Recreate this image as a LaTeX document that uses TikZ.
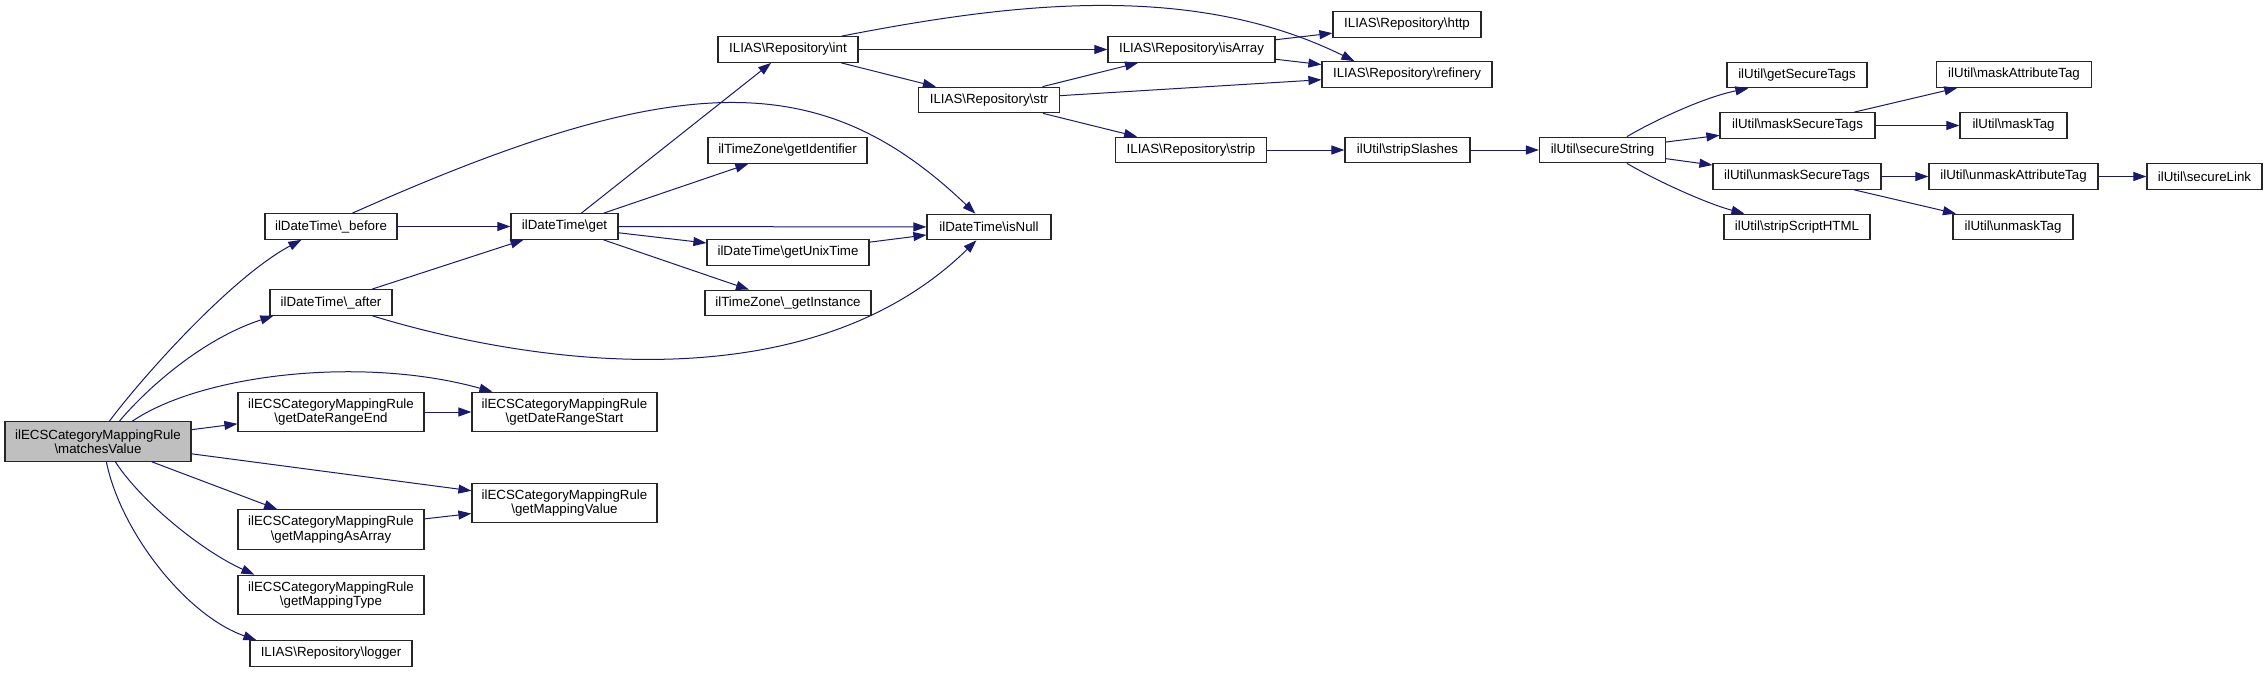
\documentclass[tikz,border=0pt]{standalone}
\usepackage{fontspec}
\setmainfont{Liberation Sans}
\usetikzlibrary{arrows.meta,calc}
\definecolor{edgeblue}{HTML}{191970}
\newcommand\mybs{\textbackslash}
\begin{document}
\begin{tikzpicture}[x=1pt,y=-1pt,
  box/.style={draw=black!85, line width=1.2pt, fill=white, inner sep=0pt,
    minimum height=25.5pt, align=center, font=\fontsize{13.3}{14.5}\selectfont},
  tall/.style={minimum height=39.5pt},
  edge/.style={draw=edgeblue, line width=1pt, -{Triangle[length=13pt,width=9pt]}}]
\fill[white] (0,0) rectangle (2267,672);
\useasboundingbox (0,0) rectangle (2267,672);

% nodes
\node[box,tall,fill=black!25,minimum width=186pt] (mv) at (98,441.5) {ilECSCategoryMappingRule\\\mybs matchesValue};
\node[box,tall,minimum width=186pt] (dre) at (331,412) {ilECSCategoryMappingRule\\\mybs getDateRangeEnd};
\node[box,tall,minimum width=185pt] (drs) at (564.5,412) {ilECSCategoryMappingRule\\\mybs getDateRangeStart};
\node[box,tall,minimum width=185pt] (mval) at (564.5,503) {ilECSCategoryMappingRule\\\mybs getMappingValue};
\node[box,tall,minimum width=186pt] (maa) at (331,529.5) {ilECSCategoryMappingRule\\\mybs getMappingAsArray};
\node[box,tall,minimum width=186pt] (mt) at (331,595) {ilECSCategoryMappingRule\\\mybs getMappingType};
\node[box,minimum width=162pt] (logger) at (331,653.5) {ILIAS\mybs Repository\mybs logger};
\node[box,minimum width=132pt] (before) at (331,226.5) {ilDateTime\mybs\_before};
\node[box,minimum width=122pt] (after) at (331,302.5) {ilDateTime\mybs\_after};
\node[box,minimum width=107pt] (get) at (564.5,226.5) {ilDateTime\mybs get};
\node[box,minimum width=140pt] (int) at (788,49.5) {ILIAS\mybs Repository\mybs int};
\node[box,minimum width=159pt] (gid) at (787.5,150.5) {ilTimeZone\mybs getIdentifier};
\node[box,minimum width=162pt] (gut) at (788,252.5) {ilDateTime\mybs getUnixTime};
\node[box,minimum width=166pt] (gin) at (788,303) {ilTimeZone\mybs\_getInstance};
\node[box,minimum width=141pt] (str) at (989,100) {ILIAS\mybs Repository\mybs str};
\node[box,minimum width=124pt] (isnull) at (989,227) {ilDateTime\mybs isNull};
\node[box,minimum width=167pt] (isarr) at (1191.5,49.5) {ILIAS\mybs Repository\mybs isArray};
\node[box,minimum width=151pt] (strip) at (1191,150) {ILIAS\mybs Repository\mybs strip};
\node[box,minimum width=148pt] (http) at (1407,24.5) {ILIAS\mybs Repository\mybs http};
\node[box,minimum width=170pt] (ref) at (1407,74.5) {ILIAS\mybs Repository\mybs refinery};
\node[box,minimum width=125pt] (ssl) at (1407.5,150) {ilUtil\mybs stripSlashes};
\node[box,minimum width=126pt] (sec) at (1602.5,150) {ilUtil\mybs secureString};
\node[box,minimum width=140pt] (gst) at (1797,75) {ilUtil\mybs getSecureTags};
\node[box,minimum width=155pt] (mst) at (1797.5,125.5) {ilUtil\mybs maskSecureTags};
\node[box,minimum width=168pt] (ust) at (1797,176.5) {ilUtil\mybs unmaskSecureTags};
\node[box,minimum width=146pt] (ssh) at (1797,227) {ilUtil\mybs stripScriptHTML};
\node[box,minimum width=155pt] (mat) at (2014,74.5) {ilUtil\mybs maskAttributeTag};
\node[box,minimum width=107pt] (mtag) at (2013.5,125.5) {ilUtil\mybs maskTag};
\node[box,minimum width=169pt] (uat) at (2013.5,176.5) {ilUtil\mybs unmaskAttributeTag};
\node[box,minimum width=120pt] (utag) at (2013,227) {ilUtil\mybs unmaskTag};
\node[box,minimum width=115pt] (slink) at (2204.5,176.5) {ilUtil\mybs secureLink};

% curved edges
\draw[edge] ($(mv.north west)+(105,0)$) .. controls (140,380) and (230,278) .. ($(before.south west)+(37,0)$);
\draw[edge] ($(mv.north west)+(115,0)$) .. controls (150,385) and (205,338) .. ($(after.south west)+(4,0)$);
\draw[edge] ($(mv.north west)+(128,0)$) .. controls (200,375) and (360,355) .. ($(drs.north west)+(21,0)$);
\draw[edge] ($(mv.south west)+(111,0)$) .. controls (140,500) and (200,550) .. ($(mt.north west)+(17,0)$);
\draw[edge] ($(mv.south west)+(102,0)$) .. controls (120,530) and (185,615) .. ($(logger.north west)+(7,0)$);
\draw[edge] ($(before.north west)+(88,0)$) .. controls (680,67) and (822,67) .. ($(isnull.north west)+(49,0)$);
\draw[edge] ($(after.south west)+(103,0)$) .. controls (537,366) and (810,403) .. ($(isnull.south west)+(50,0)$);
\draw[edge] ($(int.north west)+(124,0)$) .. controls (1007,4) and (1190,-20) .. ($(ref.north west)+(33,0)$);
\draw[edge] ($(sec.north west)+(88,0)$) .. controls (1655,120) and (1705,97) .. ($(gst.south west)+(22,0)$);
\draw[edge] ($(sec.south west)+(88,0)$) .. controls (1655,180) and (1705,203) .. ($(ssh.north west)+(21,0)$);

% straight edges
\draw[edge] (mv) -- (dre);
\draw[edge] (mv) -- (mval);
\draw[edge] (mv) -- (maa);
\draw[edge] (dre) -- (drs);
\draw[edge] (maa) -- (mval);
\draw[edge] (before) -- (get);
\draw[edge] (after) -- (get);
\draw[edge] (get) -- (int);
\draw[edge] (get) -- (gid);
\draw[edge] (get) -- (isnull);
\draw[edge] (get) -- (gut);
\draw[edge] (get) -- (gin);
\draw[edge] (gut) -- (isnull);
\draw[edge] (int) -- (isarr);
\draw[edge] (int) -- (str);
\draw[edge] (str) -- (isarr);
\draw[edge] (str) -- (ref);
\draw[edge] (str) -- (strip);
\draw[edge] (isarr) -- (http);
\draw[edge] (isarr) -- (ref);
\draw[edge] (strip) -- (ssl);
\draw[edge] (ssl) -- (sec);
\draw[edge] (sec) -- (mst);
\draw[edge] (sec) -- (ust);
\draw[edge] (mst) -- (mat);
\draw[edge] (mst) -- (mtag);
\draw[edge] (ust) -- (uat);
\draw[edge] (ust) -- (utag);
\draw[edge] (uat) -- (slink);
\end{tikzpicture}
\end{document}
